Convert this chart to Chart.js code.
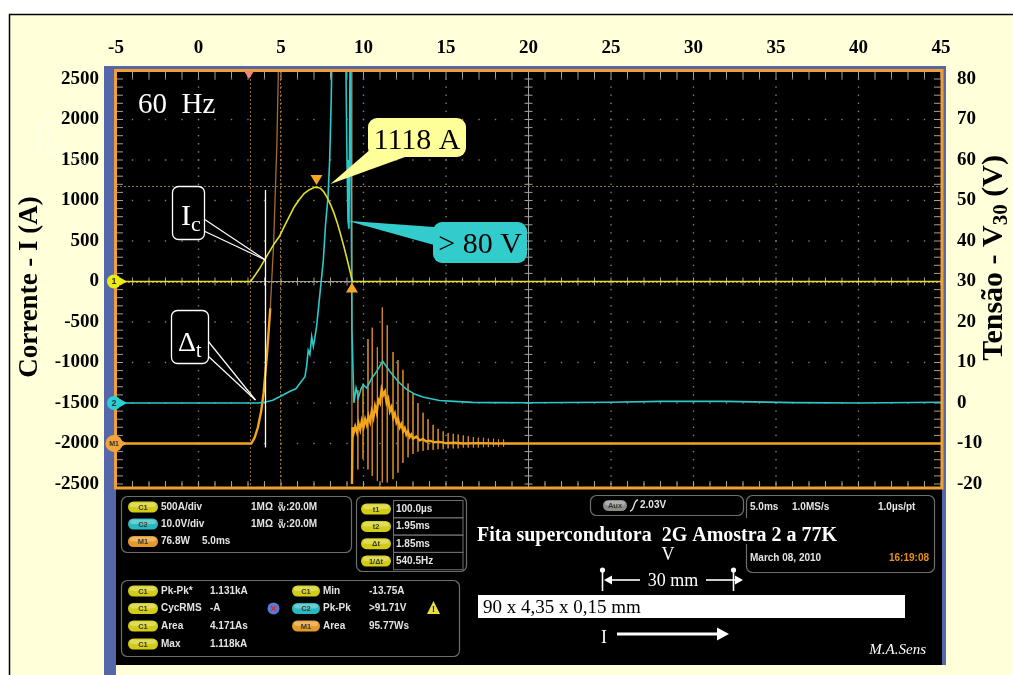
<!DOCTYPE html>
<html>
<head>
<meta charset="utf-8">
<title>Fita supercondutora 2G Amostra 2 a 77K</title>
<script src="https://cdn.jsdelivr.net/npm/chart.js@4.4.1/dist/chart.umd.min.js"></script>
<style>
    html, body { margin: 0; padding: 0; background: #ffffff; }
    #wrap { position: relative; width: 1013px; height: 675px; }
</style>
</head>
<body>
<div id="wrap"><canvas id="scope"></canvas></div>
<script>
// axis ticks
const timeTicks = [-5, 0, 5, 10, 15, 20, 25, 30, 35, 40, 45]
const ampTicks = [2500, 2000, 1500, 1000, 500, 0, -500, -1000, -1500, -2000, -2500]
const voltTicks = [80, 70, 60, 50, 40, 30, 20, 10, 0, -10, -20]

// C1 - corrente (A)
const curTime = [-5, 3.15, 3.4, 3.7, 4.0, 4.3, 4.6, 4.9, 5.2, 5.5, 5.8, 6.1, 6.4, 6.7, 7.0, 7.15, 7.4, 7.6, 7.8, 8.0, 8.2, 8.4, 8.6, 8.8, 9.0, 9.2, 9.33, 45]
const curAmp = [0, 0, 70, 160, 265, 370, 470, 555, 680, 800, 920, 1010, 1085, 1130, 1160, 1165, 1150, 1105, 1035, 950, 850, 730, 590, 440, 280, 110, 0, 0]

// C2 - tensao V30 (V)
const voltTime = [-5, 3.6, 4.0, 4.5, 4.95, 5.55, 5.9, 6.15, 6.45, 6.55, 6.65, 6.75, 6.86, 6.96, 7.05, 7.16, 7.36, 7.56, 7.7, 7.85, 7.95, 8.05, 8.12, 8.9, 9.0, 9.06, 9.12, 9.2,
    9.3, 9.42, 9.55, 9.69, 9.85, 9.99, 10.19, 10.5, 10.8, 11.16, 11.6, 12.1, 12.6, 13.1, 13.6, 14.6, 15.5, 16.6, 18, 20, 25, 28, 32, 36, 40, 45]
const voltVal = [0, 0, 0.2, 0.7, 1.6, 2.9, 3.5, 4.9, 6.5, 9, 13, 12, 16.4, 14, 16, 19, 27, 35, 44, 51, 60, 76, 95, 95, 60, 45, 43, 95,
    18, 0, 3.7, 1.3, 3.5, 4.5, 3.7, 6.1, 7.8, 10.3, 7.8, 5.3, 3.4, 2.2, 1.5, 0.6, 0.4, 0.15, 0.1, 0.05, 0.2, 0.4, 0.4, 0.1, 0, 0.2]

// M1 - trace drawn on the left scale (baseline at -2000)
const powTime = [-5, 3.2, 3.4, 3.6, 3.8, 3.95, 4.15, 4.35, 4.55, 4.75, 4.9, 9.28, 9.3, 9.34,
    9.4, 9.5, 9.6, 9.7, 9.8, 9.9, 10.0, 10.1, 10.2, 10.3, 10.4, 10.5, 10.6, 10.7, 10.8, 10.9, 11.0, 11.1, 11.2, 11.3,
    11.4, 11.5, 11.6, 11.7, 11.8, 11.9, 12.0, 12.1, 12.2, 12.3, 12.4, 12.5, 12.6, 12.7, 12.8, 12.9, 13.0, 13.2, 13.4, 13.6,
    13.8, 14.0, 14.3, 14.6, 15.0, 15.5, 16, 17, 18, 20, 25, 30, 35, 40, 45]
const powVal = [-2000, -2000, -1930, -1800, -1600, -1370, -900, -330, 450, 1700, 3200, 3200, -2500, -1800,
    -1870, -1790, -1860, -1750, -1830, -1720, -1800, -1700, -1770, -1660, -1730, -1600, -1680, -1540, -1620, -1460, -1500, -1330, -1400, -1360,
    -1500, -1450, -1600, -1550, -1680, -1630, -1740, -1700, -1800, -1760, -1850, -1810, -1890, -1850, -1920, -1890, -1940, -1915, -1960, -1945,
    -1975, -1965, -1985, -1980, -1995, -1990, -2000, -1995, -2000, -2000, -2000, -2000, -2000, -2000, -2000]

// M1 oscillation spikes after the quench
const spikeTime = [9.66, 9.97, 10.27, 10.53, 10.84, 11.14, 11.44, 11.79, 12.09, 12.39, 12.70, 13.00, 13.30, 13.61, 13.91,
    14.22, 14.52, 14.83, 15.13, 15.44, 15.74, 16.05, 16.35, 16.66, 16.96, 17.27, 17.57, 17.88, 18.18, 18.49]
const spikeTop = [-1340, -1260, -710, -570, -810, -320, -540, -870, -970, -1090, -1260, -1380, -1500, -1620, -1700,
    -1770, -1820, -1850, -1870, -1880, -1890, -1900, -1910, -1920, -1930, -1930, -1940, -1940, -1950, -1950]
const spikeBottom = [-2320, -2190, -2320, -2400, -2460, -2480, -2480, -2440, -2360, -2240, -2170, -2130, -2100, -2090, -2080,
    -2080, -2070, -2070, -2060, -2060, -2060, -2050, -2050, -2050, -2050, -2045, -2045, -2040, -2040, -2040]

// scope cursors
const cursorTimes = [3.1, 4.95]
const cursorLevels = [1180, 0]
const triggerTime = 3.06
const quenchTime = 9.3

const serif = "'Liberation Serif', 'Times New Roman', serif"
const sans = "'Liberation Sans', Arial, sans-serif"

function pts(xs, ys) {
    return xs.map((x, i) => ({ x: x, y: ys[i] }))
}

function spikePoints() {
    const out = []
    spikeTime.forEach((t, i) => {
        out.push({ x: t, y: spikeTop[i] }, { x: t, y: spikeBottom[i] }, { x: t, y: null })
    })
    return out
}

function line(ctx, x1, y1, x2, y2) {
    ctx.beginPath()
    ctx.moveTo(x1, y1)
    ctx.lineTo(x2, y2)
    ctx.stroke()
}

function poly(ctx, p, fill) {
    ctx.beginPath()
    ctx.moveTo(p[0][0], p[0][1])
    for (let i = 1; i < p.length; i++) ctx.lineTo(p[i][0], p[i][1])
    ctx.closePath()
    ctx.fillStyle = fill
    ctx.fill()
}

function rbox(ctx, x, y, w, h, r, fill, stroke, lw) {
    ctx.beginPath()
    ctx.roundRect(x, y, w, h, r)
    if (fill) { ctx.fillStyle = fill; ctx.fill() }
    if (stroke) { ctx.strokeStyle = stroke; ctx.lineWidth = lw || 1; ctx.stroke() }
}

function arrowHead(ctx, x, y, dir, size) {
    poly(ctx, [[x, y], [x - dir * size, y - size * 0.55], [x - dir * size, y + size * 0.55]], ctx.strokeStyle)
}

// page, frame and scope body
function drawPage(chart) {
    const ctx = chart.ctx, ca = chart.chartArea
    ctx.save()
    ctx.fillStyle = '#ffffff'
    ctx.fillRect(0, 0, chart.width, chart.height)
    ctx.fillStyle = '#ffffd9'
    ctx.fillRect(9, 14, chart.width - 9, chart.height - 14)
    ctx.strokeStyle = '#000000'
    ctx.lineWidth = 1.5
    ctx.beginPath()
    ctx.moveTo(9.5, chart.height)
    ctx.lineTo(9.5, 14.5)
    ctx.lineTo(chart.width, 14.5)
    ctx.stroke()

    ctx.fillStyle = '#5567a9'
    ctx.fillRect(ca.left - 12, ca.top - 13, ca.right - ca.left + 17, 665 - (ca.top - 13))
    ctx.fillRect(ca.left - 12, 665, 12, chart.height - 665)
    ctx.fillStyle = '#000000'
    ctx.fillRect(ca.left, ca.top - 10, ca.right - ca.left + 1, 665 - (ca.top - 10))

    // axis titles
    ctx.fillStyle = '#000000'
    ctx.font = 'bold 27px ' + serif
    ctx.textAlign = 'center'
    ctx.textBaseline = 'alphabetic'
    ctx.save()
    ctx.translate(37, 287)
    ctx.rotate(-Math.PI / 2)
    ctx.fillText('Corrente - I (A)', 0, 0)
    ctx.restore()

    ctx.save()
    ctx.translate(1002, 258)
    ctx.rotate(-Math.PI / 2)
    const partA = 'Tensão - V', partB = '30', partC = ' (V)'
    const big = 'bold 30px ' + serif, small = 'bold 21px ' + serif
    ctx.font = big
    const wA = ctx.measureText(partA).width, wC = ctx.measureText(partC).width
    ctx.font = small
    const wB = ctx.measureText(partB).width
    const x0 = -(wA + wB + wC) / 2
    ctx.textAlign = 'left'
    ctx.font = big
    ctx.fillText(partA, x0, 0)
    ctx.font = small
    ctx.fillText(partB, x0 + wA, 5)
    ctx.font = big
    ctx.fillText(partC, x0 + wA + wB, 0)
    ctx.restore()
    ctx.restore()
}

// graticule: dotted grid, centre cross, edge ticks
function drawGraticule(chart) {
    const ctx = chart.ctx, ca = chart.chartArea
    const xs = chart.scales.x, ys = chart.scales.y
    const dx = (xs.getPixelForValue(5) - xs.getPixelForValue(0)) / 5
    const dy = (ys.getPixelForValue(0) - ys.getPixelForValue(500)) / 5
    ctx.save()
    ctx.fillStyle = '#808080'
    timeTicks.forEach(t => {
        const px = xs.getPixelForValue(t)
        for (let py = ca.top; py <= ca.bottom + 0.5; py += dy) ctx.fillRect(px - 0.7, py - 0.7, 1.4, 1.4)
    })
    ampTicks.forEach(a => {
        const py = ys.getPixelForValue(a)
        for (let px = ca.left; px <= ca.right + 0.5; px += dx) ctx.fillRect(px - 0.7, py - 0.7, 1.4, 1.4)
    })
    ctx.strokeStyle = '#a0a0a0'
    ctx.lineWidth = 1
    const cx = xs.getPixelForValue(20), cy = ys.getPixelForValue(0)
    line(ctx, cx, ca.top - 7, cx, ca.bottom + 3)
    line(ctx, ca.left, cy, ca.right, cy)
    for (let py = ca.top; py <= ca.bottom + 0.5; py += dy) {
        line(ctx, cx - 4, py, cx + 4, py)
        line(ctx, ca.left + 1, py, ca.left + 7, py)
        line(ctx, ca.right - 7, py, ca.right - 1, py)
    }
    for (let px = ca.left; px <= ca.right + 0.5; px += dx) {
        line(ctx, px, cy - 4, px, cy + 4)
        line(ctx, px, ca.top - 7, px, ca.top - 1)
        line(ctx, px, ca.bottom - 3, px, ca.bottom + 3)
    }
    ctx.restore()
}

function drawCursors(chart) {
    const ctx = chart.ctx, ca = chart.chartArea
    const xs = chart.scales.x, ys = chart.scales.y
    ctx.save()
    ctx.strokeStyle = 'rgba(160,118,52,0.95)'
    ctx.lineWidth = 1
    ctx.setLineDash([2, 2])
    cursorTimes.forEach(t => {
        const px = Math.round(xs.getPixelForValue(t)) + 0.5
        line(ctx, px, ca.top - 8, px, ca.bottom + 3)
    })
    cursorLevels.forEach(v => {
        const py = Math.round(ys.getPixelForValue(v)) + 0.5
        line(ctx, ca.left, py, ca.right, py)
    })
    ctx.restore()
}

function drawBorder(chart) {
    const ctx = chart.ctx, ca = chart.chartArea
    ctx.save()
    ctx.strokeStyle = '#f0a030'
    ctx.lineWidth = 3
    ctx.strokeRect(ca.left - 0.5, ca.top - 8.5, ca.right - ca.left + 1.5, ca.bottom - ca.top + 12.5)
    ctx.restore()
}

// text boxes, markers and channel labels inside the screen
function drawAnnotations(chart) {
    const ctx = chart.ctx, ca = chart.chartArea
    const xs = chart.scales.x, ys = chart.scales.y, vs = chart.scales.y2
    ctx.save()

    // trigger and cursor markers
    const tx = xs.getPixelForValue(triggerTime)
    poly(ctx, [[tx - 5, ca.top - 8], [tx + 5, ca.top - 8], [tx, ca.top]], '#f08878')
    const peakIdx = curAmp.indexOf(Math.max(...curAmp))
    const pkx = xs.getPixelForValue(curTime[peakIdx])
    const cly = ys.getPixelForValue(cursorLevels[0])
    poly(ctx, [[pkx - 6, cly - 11], [pkx + 6, cly - 11], [pkx, cly - 1]], '#f5a623')
    const qx = xs.getPixelForValue(quenchTime), zy = ys.getPixelForValue(0)
    poly(ctx, [[qx - 6, zy + 11], [qx + 6, zy + 11], [qx, zy + 1]], '#f5a623')

    // channel markers on the left edge
    const marks = [[ys.getPixelForValue(0), '#ecec10', '1', 7], [vs.getPixelForValue(0), '#2cd0d4', '2', 7], [ys.getPixelForValue(-2000), '#f2a43a', 'M1', 8.5]]
    marks.forEach(m => {
        poly(ctx, [[ca.left + 4, m[0] - 4], [ca.left + 11, m[0]], [ca.left + 4, m[0] + 4]], m[1])
        ctx.beginPath()
        ctx.arc(ca.left - 2, m[0], m[3], 0, Math.PI * 2)
        ctx.fillStyle = m[1]
        ctx.fill()
        ctx.fillStyle = '#333'
        ctx.font = 'bold ' + (m[2].length > 1 ? 7 : 9) + 'px ' + sans
        ctx.textAlign = 'center'
        ctx.textBaseline = 'middle'
        ctx.fillText(m[2], ca.left - 2, m[0] + 0.5)
    })

    // white line at Ic
    const icT = 4.0
    const icx = Math.round(xs.getPixelForValue(icT)) + 0.5
    ctx.strokeStyle = '#ffffff'
    ctx.lineWidth = 1.3
    line(ctx, icx, ys.getPixelForValue(1130), icx, ys.getPixelForValue(-2050))

    // "60 Hz"
    ctx.fillStyle = '#ffffff'
    ctx.font = '29px ' + serif
    ctx.textAlign = 'left'
    ctx.textBaseline = 'alphabetic'
    ctx.fillText('60  Hz', 138, 113)

    // Ic callout
    const icTip = [icx, ys.getPixelForValue(curAmp[curTime.indexOf(icT)])]
    calloutOutline(ctx, icTip, [204, 219], [204, 231])
    rbox(ctx, 172.5, 186.5, 32, 53, 6, '#000', '#fff', 1.3)
    subText(ctx, 'I', 'c', 181, 225, 30, 22, '#fff')

    // Delta t callout
    const dtTip = [xs.getPixelForValue(3.45), vs.getPixelForValue(0) - 3]
    calloutOutline(ctx, dtTip, [208, 341], [208, 356])
    rbox(ctx, 171.5, 310.5, 37, 53, 6, '#000', '#fff', 1.3)
    subText(ctx, 'Δ', 't', 178, 351, 28, 20, '#fff')

    // 1118 A callout
    poly(ctx, [[pkx + 14, cly - 2], [372, 148], [405, 157]], '#ffff99')
    rbox(ctx, 368, 118, 98, 39, 9, '#ffff99')
    ctx.fillStyle = '#000'
    ctx.font = '30px ' + serif
    ctx.textAlign = 'center'
    ctx.fillText('1118 A', 417, 149)

    // > 80 V callout
    const vTip = [xs.getPixelForValue(9.0), vs.getPixelForValue(45)]
    poly(ctx, [vTip, [434, 227], [434, 245]], '#33cccc')
    rbox(ctx, 433, 222, 94, 41, 9, '#33cccc')
    ctx.fillStyle = '#000'
    ctx.fillText('> 80 V', 480, 253)

    // faint ghost label at the top-left of the page
    ctx.globalAlpha = 0.55
    ctx.strokeStyle = '#ffffff'
    ctx.lineWidth = 1
    line(ctx, 60, 148, 92, 168)
    line(ctx, 62, 144, 92, 168)
    rbox(ctx, 40.5, 120.5, 21, 33, 4, null, '#ffffff', 1)
    subText(ctx, 'I', 'c', 45, 145, 18, 13, '#ffffff')
    ctx.globalAlpha = 1
    ctx.restore()
}

function calloutOutline(ctx, tip, a, b) {
    poly(ctx, [tip, a, b], '#000')
    ctx.strokeStyle = '#ffffff'
    ctx.lineWidth = 1.2
    line(ctx, tip[0], tip[1], a[0], a[1])
    line(ctx, tip[0], tip[1], b[0], b[1])
}

function subText(ctx, main, sub, x, y, s1, s2, color) {
    ctx.fillStyle = color
    ctx.textAlign = 'left'
    ctx.textBaseline = 'alphabetic'
    ctx.font = s1 + 'px ' + serif
    const w = ctx.measureText(main).width
    ctx.fillText(main, x, y)
    ctx.font = s2 + 'px ' + serif
    ctx.fillText(sub, x + w, y + 6)
}

function pill(ctx, x, cy, w, color, text) {
    const h = 11
    rbox(ctx, x, cy - h / 2, w, h, h / 2, color)
    rbox(ctx, x + 2, cy - h / 2 + 1, w - 4, h / 2 - 1, 3, 'rgba(255,255,255,0.3)')
    ctx.fillStyle = '#3a3a2a'
    ctx.font = 'bold 7.5px ' + sans
    ctx.textAlign = 'center'
    ctx.textBaseline = 'middle'
    ctx.fillText(text, x + w / 2, cy + 0.5)
}

function panelText(ctx, text, x, y, color, align) {
    ctx.fillStyle = color || '#e4e4e4'
    ctx.font = 'bold 10px ' + sans
    ctx.textAlign = align || 'left'
    ctx.textBaseline = 'middle'
    ctx.fillText(text, x, y)
}

function bwText(ctx, x, y) {
    ctx.fillStyle = '#e4e4e4'
    ctx.textAlign = 'left'
    ctx.textBaseline = 'middle'
    ctx.font = 'bold 6px ' + sans
    ctx.fillText('B', x + 1, y - 3)
    ctx.font = 'bold 8px ' + sans
    ctx.fillText('W', x, y + 2)
    panelText(ctx, ':20.0M', x + 8, y)
}

// lower info panel of the oscilloscope
function drawPanel(chart) {
    const ctx = chart.ctx
    const yel = '#d2cc16', cya = '#2ab8c0', org = '#e39a2a'
    ctx.save()

    // channel settings
    rbox(ctx, 121.5, 496.5, 230, 56, 6, null, '#6e6e6e', 1.2)
    const rows1 = [[507, yel, 'C1', '500A/div', true], [524, cya, 'C2', '10.0V/div', true], [541.5, org, 'M1', '76.8W', false]]
    rows1.forEach(r => {
        pill(ctx, 128, r[0], 30, r[1], r[2])
        panelText(ctx, r[3], 161, r[0])
        if (r[4]) {
            panelText(ctx, '1MΩ', 251, r[0])
            bwText(ctx, 278, r[0])
        } else {
            panelText(ctx, '5.0ms', 202, r[0])
        }
    })

    // cursor readouts
    rbox(ctx, 356.5, 496.5, 110, 75, 6, null, '#6e6e6e', 1.2)
    const rows2 = [['t1', '100.0µs'], ['t2', '1.95ms'], ['Δt', '1.85ms'], ['1/Δt', '540.5Hz']]
    rows2.forEach((r, i) => {
        const top = 500.5 + i * 17.3
        ctx.strokeStyle = '#6e6e6e'
        ctx.lineWidth = 1
        ctx.strokeRect(393.5, top, 69.5, 17.3)
        pill(ctx, 361, top + 8.6, 30, yel, r[0])
        panelText(ctx, r[1], 396, top + 8.8)
    })

    // measurements
    rbox(ctx, 121.5, 580.5, 338, 76, 6, null, '#6e6e6e', 1.2)
    const rows3 = [['Pk-Pk*', '1.131kA'], ['CycRMS', '-A'], ['Area', '4.171As'], ['Max', '1.118kA']]
    const ry = [591, 608.5, 626, 644]
    rows3.forEach((r, i) => {
        pill(ctx, 128, ry[i], 30, yel, 'C1')
        panelText(ctx, r[0], 161, ry[i])
        panelText(ctx, r[1], 210, ry[i])
    })
    const rows4 = [[yel, 'C1', 'Min', '-13.75A'], [cya, 'C2', 'Pk-Pk', '>91.71V'], [org, 'M1', 'Area', '95.77Ws']]
    rows4.forEach((r, i) => {
        pill(ctx, 292, ry[i], 28, r[0], r[1])
        panelText(ctx, r[2], 323, ry[i])
        panelText(ctx, r[3], 369, ry[i])
    })
    ctx.beginPath()
    ctx.arc(273.5, 608.5, 6, 0, Math.PI * 2)
    ctx.fillStyle = '#5a7ad8'
    ctx.fill()
    ctx.strokeStyle = '#d83030'
    ctx.lineWidth = 1.5
    line(ctx, 271, 606, 276, 611)
    line(ctx, 276, 606, 271, 611)
    poly(ctx, [[433.5, 601], [440, 614], [427, 614]], '#e8e040')
    ctx.fillStyle = '#222'
    ctx.font = 'bold 9px ' + sans
    ctx.textAlign = 'center'
    ctx.fillText('!', 433.5, 610)

    // trigger / timebase
    rbox(ctx, 590.5, 495.5, 153, 20, 6, null, '#6e6e6e', 1.2)
    pill(ctx, 603, 505.5, 24, '#8c8c8c', 'Aux')
    ctx.strokeStyle = '#e4e4e4'
    ctx.lineWidth = 1.3
    ctx.beginPath()
    ctx.moveTo(630, 511)
    ctx.bezierCurveTo(635, 511, 633, 500, 638, 500)
    ctx.stroke()
    panelText(ctx, '2.03V', 640, 505.5)

    rbox(ctx, 746.5, 495.5, 188, 77, 6, null, '#6e6e6e', 1.2)
    panelText(ctx, '5.0ms', 750, 507)
    panelText(ctx, '1.0MS/s', 792, 507)
    panelText(ctx, '1.0µs/pt', 878, 507)
    panelText(ctx, 'March 08, 2010', 750, 558.5)
    panelText(ctx, '16:19:08', 929, 558.5, '#e8901a', 'right')

    // sample description
    ctx.fillStyle = '#000'
    ctx.fillRect(470, 518, 382, 26)
    ctx.fillStyle = '#ffffff'
    ctx.font = 'bold 20px ' + serif
    ctx.textAlign = 'left'
    ctx.textBaseline = 'alphabetic'
    ctx.fillText('Fita supercondutora  2G Amostra 2 a 77K', 477, 541)
    ctx.font = '18px ' + serif
    ctx.textAlign = 'center'
    ctx.fillText('V', 668, 560)
    ctx.fillText('30 mm', 673, 586)
    ctx.fillText('I', 604, 643)

    ctx.strokeStyle = '#ffffff'
    ctx.lineWidth = 1.6
    ;[602.5, 733.5].forEach(x => {
        ctx.beginPath()
        ctx.arc(x, 570, 2.6, 0, Math.PI * 2)
        ctx.fillStyle = '#ffffff'
        ctx.fill()
        line(ctx, x, 570, x, 591)
    })
    line(ctx, 610, 580, 640, 580)
    arrowHead(ctx, 604, 580, -1, 8)
    line(ctx, 706, 580, 736, 580)
    arrowHead(ctx, 743, 580, 1, 8)

    ctx.fillStyle = '#ffffff'
    ctx.fillRect(478, 595, 427, 23)
    ctx.fillStyle = '#000'
    ctx.font = '19px ' + serif
    ctx.textAlign = 'left'
    ctx.fillText('90 x 4,35 x 0,15 mm', 483, 613)

    ctx.strokeStyle = '#ffffff'
    ctx.lineWidth = 3
    line(ctx, 617, 634, 718, 634)
    arrowHead(ctx, 729, 634, 1, 12)

    ctx.fillStyle = '#ffffff'
    ctx.font = 'italic 15px ' + serif
    ctx.textAlign = 'right'
    ctx.fillText('M.A.Sens', 926, 654)
    ctx.restore()
}

const scopePlugin = {
    id: 'scope',
    beforeDraw(chart) { drawPage(chart) },
    beforeDatasetsDraw(chart) {
        drawGraticule(chart)
        drawCursors(chart)
    },
    afterDatasetsDraw(chart) {
        drawBorder(chart)
        drawAnnotations(chart)
    },
    afterDraw(chart) { drawPanel(chart) }
}

const tickFont = { family: serif, size: 19, weight: 'bold' }
const traceClip = { left: 0, top: 8, right: 0, bottom: 3 }
const plainLabel = v => String(v)

const chart = new Chart(document.getElementById('scope'), {
    type: 'line',
    data: {
        datasets: [
            { label: 'C1 corrente', data: pts(curTime, curAmp), yAxisID: 'y', borderColor: '#e2e02a', borderWidth: 1.6, clip: traceClip },
            { label: 'C2 tensão', data: pts(voltTime, voltVal), yAxisID: 'y2', borderColor: '#2cc8ca', borderWidth: 1.6, clip: traceClip },
            {
                label: 'M1', data: pts(powTime, powVal), yAxisID: 'y', borderColor: '#f3a51c', borderWidth: 2.4, clip: traceClip,
                segment: {
                    borderColor: c => Math.abs(c.p1.y - c.p0.y) > 60 && Math.abs(c.p1.x - c.p0.x) < 12 ? 'rgba(185,120,50,0.9)' : undefined,
                    borderWidth: c => Math.abs(c.p1.y - c.p0.y) > 60 && Math.abs(c.p1.x - c.p0.x) < 12 ? 1.3 : undefined
                }
            },
            { label: 'M1 oscilação', data: spikePoints(), yAxisID: 'y', borderColor: 'rgba(214,140,40,0.8)', borderWidth: 1, clip: traceClip }
        ]
    },
    options: {
        responsive: true,
        maintainAspectRatio: false,
        animation: false,
        layout: { padding: { top: 0, left: 0, right: 0, bottom: 191 } },
        elements: { point: { radius: 0 }, line: { tension: 0 } },
        plugins: { legend: { display: false }, tooltip: { enabled: false } },
        scales: {
            x: {
                type: 'linear', position: 'top', min: -5, max: 45,
                afterBuildTicks: s => { s.ticks = timeTicks.map(v => ({ value: v })) },
                afterFit: s => { s.height = 79 },
                ticks: { font: tickFont, color: '#000', padding: 20, maxRotation: 0, autoSkip: false, callback: plainLabel },
                grid: { display: false, drawTicks: false },
                border: { display: false }
            },
            y: {
                type: 'linear', position: 'left', min: -2500, max: 2500,
                afterBuildTicks: s => { s.ticks = ampTicks.map(v => ({ value: v })) },
                afterFit: s => { s.width = 116 },
                ticks: { font: tickFont, color: '#000', padding: 17, autoSkip: false, callback: plainLabel },
                grid: { display: false, drawTicks: false },
                border: { display: false }
            },
            y2: {
                type: 'linear', position: 'right', min: -20, max: 80,
                afterBuildTicks: s => { s.ticks = voltTicks.map(v => ({ value: v })) },
                afterFit: s => { s.width = 72 },
                ticks: { font: tickFont, color: '#000', padding: 16, autoSkip: false, callback: plainLabel },
                grid: { display: false, drawTicks: false },
                border: { display: false }
            }
        }
    },
    plugins: [scopePlugin]
})
</script>
</body>
</html>
